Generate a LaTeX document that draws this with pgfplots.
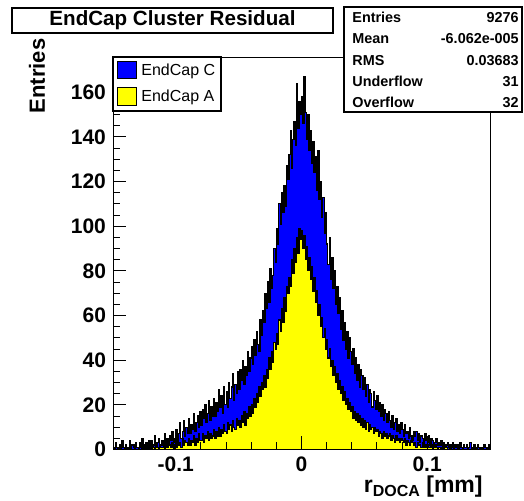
\documentclass[border=0pt]{standalone}
\usepackage{pgfplots}
\pgfplotsset{compat=1.18}
\usepackage{pgfplotstable}
\usepackage{fontspec}
\setmainfont{Liberation Sans}
\definecolor{rblue}{RGB}{0,0,255}
\definecolor{ryellow}{RGB}{255,255,0}

% EndCap C, 300 bins of 0.001 mm from -0.15 to 0.15 (last row repeats the last bin to close the step)
\pgfplotstableread[row sep=\\]{n\\
1\\0\\3\\1\\0\\2\\0\\4\\1\\0\\
2\\0\\1\\4\\0\\2\\1\\0\\3\\1\\
0\\3\\1\\5\\2\\0\\3\\1\\4\\2\\
4\\1\\2\\6\\0\\3\\5\\1\\2\\4\\
3\\7\\2\\5\\1\\6\\4\\8\\3\\5\\
9\\4\\7\\12\\5\\8\\13\\6\\10\\7\\
14\\7\\11\\9\\16\\8\\12\\15\\10\\17\\
11\\18\\14\\20\\12\\16\\22\\13\\19\\15\\
23\\15\\21\\17\\27\\19\\24\\16\\28\\20\\
26\\19\\30\\23\\28\\34\\22\\29\\25\\35\\
27\\36\\31\\40\\29\\37\\33\\44\\35\\41\\
46\\38\\49\\42\\53\\47\\44\\58\\51\\62\\
57\\70\\63\\75\\66\\81\\72\\78\\90\\84\\
99\\92\\110\\101\\115\\106\\118\\109\\127\\121\\
132\\143\\126\\139\\147\\136\\164\\144\\156\\150\\
158\\146\\167\\151\\139\\150\\134\\143\\128\\138\\
124\\131\\116\\134\\112\\120\\104\\113\\97\\106\\
92\\83\\95\\76\\86\\72\\80\\65\\73\\61\\
68\\54\\62\\49\\57\\45\\53\\41\\50\\44\\
38\\45\\34\\41\\31\\38\\28\\36\\33\\27\\
32\\24\\29\\21\\27\\25\\19\\26\\22\\18\\
24\\17\\21\\15\\20\\13\\18\\16\\12\\17\\
13\\10\\15\\9\\12\\14\\8\\11\\7\\12\\
9\\6\\11\\7\\8\\5\\10\\6\\4\\8\\
6\\8\\4\\7\\3\\6\\5\\2\\7\\4\\
3\\6\\2\\5\\4\\1\\3\\5\\2\\3\\
2\\4\\1\\3\\0\\2\\3\\1\\2\\1\\
3\\0\\2\\1\\2\\0\\3\\1\\0\\2\\
1\\2\\0\\1\\3\\0\\1\\2\\1\\0\\
2\\1\\0\\1\\0\\2\\1\\0\\1\\2\\
2\\
}\blueC

% EndCap A
\pgfplotstableread[row sep=\\]{n\\
0\\1\\0\\0\\0\\1\\0\\0\\0\\1\\
0\\0\\1\\0\\1\\0\\0\\2\\0\\0\\
1\\0\\0\\2\\0\\1\\0\\1\\0\\2\\
0\\2\\1\\0\\3\\1\\0\\2\\1\\1\\
3\\0\\2\\1\\4\\2\\1\\3\\0\\2\\
1\\4\\2\\3\\1\\5\\2\\4\\3\\2\\
5\\2\\4\\3\\6\\2\\5\\3\\7\\4\\
4\\7\\3\\6\\5\\8\\4\\7\\5\\6\\
9\\5\\8\\6\\10\\6\\9\\7\\11\\8\\
7\\12\\9\\11\\8\\13\\10\\9\\14\\11\\
13\\10\\15\\12\\17\\11\\16\\14\\19\\15\\
20\\16\\23\\19\\25\\21\\28\\24\\30\\27\\
33\\28\\36\\32\\41\\36\\44\\39\\48\\45\\
52\\47\\58\\53\\63\\57\\68\\62\\73\\70\\
77\\73\\85\\79\\90\\84\\95\\88\\99\\94\\
98\\90\\96\\85\\91\\80\\86\\76\\82\\71\\
77\\66\\71\\60\\65\\55\\59\\50\\54\\45\\
49\\41\\45\\37\\40\\33\\37\\30\\34\\27\\
31\\25\\28\\22\\26\\20\\23\\18\\21\\17\\
19\\14\\17\\13\\16\\12\\15\\11\\14\\10\\
13\\9\\12\\8\\11\\9\\10\\7\\10\\8\\
9\\6\\8\\7\\5\\8\\6\\7\\5\\6\\
7\\4\\6\\5\\3\\6\\4\\5\\3\\5\\
4\\3\\5\\2\\4\\3\\2\\4\\3\\2\\
3\\1\\3\\2\\2\\1\\3\\1\\2\\1\\
2\\1\\1\\2\\0\\1\\2\\1\\0\\1\\
1\\0\\1\\0\\1\\1\\0\\0\\1\\0\\
0\\1\\0\\0\\1\\0\\0\\0\\1\\0\\
0\\0\\1\\0\\0\\0\\0\\1\\0\\0\\
0\\0\\0\\1\\0\\0\\0\\0\\0\\1\\
1\\
}\yellowA

\begin{document}
\begin{tikzpicture}
\useasboundingbox (-56.5pt,-25.75pt) rectangle (205.5pt,224.75pt);
\begin{axis}[
  at={(0pt,0pt)}, anchor=south west,
  scale only axis, width=188.5pt, height=195.75pt,
  xmin=-0.15, xmax=0.15, ymin=0, ymax=175.35,
  xtick={-0.1,0,0.1}, xticklabels={{-0.1},{0},{0.1}},
  ytick={0,20,40,60,80,100,120,140,160},
  yticklabels={0,20,40,60,80,100,120,140,160},
  minor x tick num=4, minor y tick num=3,
  tick pos=left, tick align=inside,
  major tick length=6.5pt, minor tick length=3.5pt,
  tick style={black, line width=0.5pt},
  ticklabel style={font=\bfseries\fontsize{10.5}{11}\selectfont},
  /pgf/number format/assume math mode=true,
  axis line style={line width=0.5pt},
  axis on top,
]
\addplot[const plot mark left, fill=rblue, draw=black, line width=0.6pt]
  table[x expr={-0.15+0.001*\coordindex}, y=n]{\blueC} \closedcycle;
\addplot[const plot mark left, fill=ryellow, draw=black, line width=0.6pt]
  table[x expr={-0.15+0.001*\coordindex}, y=n]{\yellowA} \closedcycle;
\end{axis}

% title box
\draw[fill=white, line width=0.6pt] (-50.5pt,208.25pt) rectangle (110pt,220.75pt);
\node[font=\bfseries\fontsize{10.3}{12}\selectfont, inner sep=0] at (29.75pt,214.5pt) {EndCap Cluster Residual};

% stats box
\draw[fill=white, line width=0.6pt] (115.5pt,168.75pt) rectangle (204.5pt,221.25pt);
\begin{scope}[every node/.style={font=\bfseries\fontsize{7.2}{8}\selectfont, inner sep=0}]
\node[anchor=base west] at (119.5pt,213.5pt) {Entries};
\node[anchor=base east] at (203pt,213.5pt) {9276};
\node[anchor=base west] at (119.5pt,202.85pt) {Mean};
\node[anchor=base east] at (203pt,202.85pt) {-6.062e-005};
\node[anchor=base west] at (119.5pt,192.2pt) {RMS};
\node[anchor=base east] at (203pt,192.2pt) {0.03683};
\node[anchor=base west] at (119.5pt,181.5pt) {Underflow};
\node[anchor=base east] at (203pt,181.5pt) {31};
\node[anchor=base west] at (119.5pt,170.85pt) {Overflow};
\node[anchor=base east] at (203pt,170.85pt) {32};
\end{scope}

% legend
\draw[fill=white, line width=0.6pt] (0pt,169.25pt) rectangle (54pt,196.25pt);
\draw[fill=rblue, line width=0.5pt] (2pt,185.25pt) rectangle (11.5pt,193.75pt);
\draw[fill=ryellow, line width=0.5pt] (2pt,171.75pt) rectangle (11.5pt,180.75pt);
\node[anchor=west, inner sep=0, font=\fontsize{8}{9}\selectfont] at (14pt,189.25pt) {EndCap C};
\node[anchor=west, inner sep=0, font=\fontsize{8}{9}\selectfont] at (14pt,176.25pt) {EndCap A};

% axis titles
\node[rotate=90, inner sep=0, font=\bfseries\fontsize{11}{13}\selectfont] at (-38pt,186.75pt) {Entries};
\node[anchor=base east, inner sep=0, font=\bfseries\fontsize{11.5}{13}\selectfont] at (185pt,-21.5pt)
  {r\raisebox{-2pt}{\fontsize{8}{9}\selectfont DOCA}\ [mm]};
\end{tikzpicture}
\end{document}
